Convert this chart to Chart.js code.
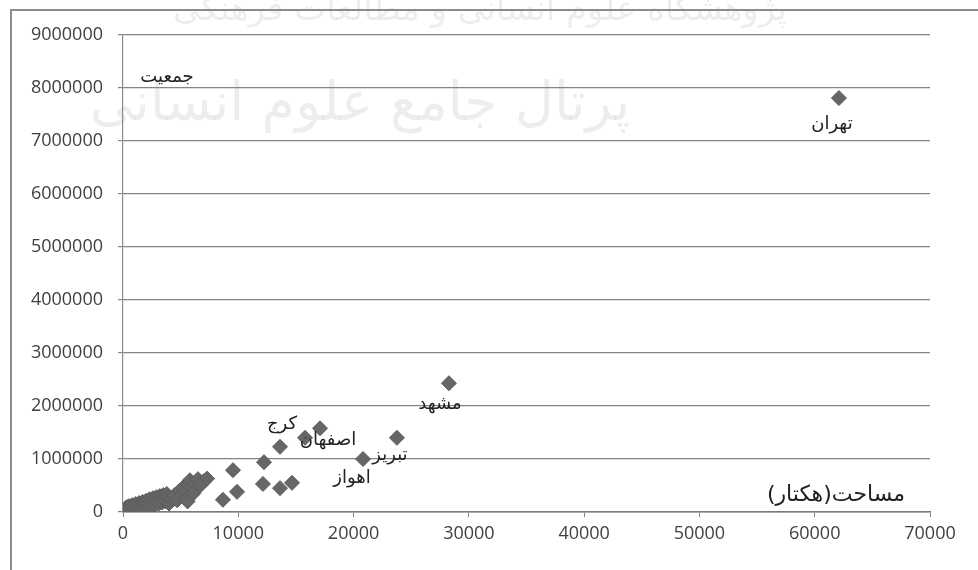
<!DOCTYPE html>
<html>
<head>
<meta charset="utf-8">
<script src="https://cdn.jsdelivr.net/npm/chart.js@4/dist/chart.umd.min.js"></script>
<style>
  html, body { margin: 0; padding: 0; background: #fff; }
  canvas { display: block; }
</style>
</head>
<body>
<canvas id="myChart" width="978" height="570"></canvas>
<script>
// مساحت (هکتار) و جمعیت شهرها
const areaHa = [62100, 28270, 23760, 20820, 17090, 15790, 13620, 12230, 9540, 12140, 13620, 14660, 9890, 8670,
  200, 300, 400, 500, 600, 700, 800, 900, 1000, 1100, 1200, 1300, 1400, 1500, 1600, 1700, 1800, 1900, 2000,
  2100, 2200, 2300, 2400, 2500, 2600, 2700, 2800, 2900, 3000, 3100, 3200, 3300, 3400, 3500, 3600, 3700, 3800, 3900, 4000,
  4300, 4500, 4700, 4900, 5000, 5200, 5400, 5500, 5700, 5800, 6000, 6200, 6500, 6700, 7000, 7300, 5600, 6100];
const population = [7810000, 2430000, 1400000, 1000000, 1580000, 1400000, 1230000, 940000, 790000, 530000, 450000, 550000, 380000, 230000,
  60000, 90000, 40000, 110000, 70000, 30000, 130000, 90000, 50000, 150000, 100000, 60000, 170000, 120000, 40000, 190000, 140000, 80000, 210000,
  160000, 100000, 240000, 180000, 120000, 260000, 200000, 140000, 280000, 220000, 160000, 300000, 240000, 180000, 320000, 260000, 200000, 340000, 280000, 160000,
  250000, 320000, 220000, 400000, 300000, 460000, 380000, 250000, 520000, 600000, 450000, 540000, 620000, 500000, 580000, 630000, 200000, 350000];

// نام شهرها برای نقاط برچسب‌دار (اندیس نقطه)
const cityNames = ['تهران', 'مشهد', 'تبریز', 'اهواز', 'اصفهان', 'کرج'];
const cityIndex = [0, 1, 2, 3, 4, 6];
const cityOffset = [[-7, 26], [-9, 21], [-7, 18], [-11, 19], [8, 12], [2, -22]];

const xTicks = [0, 10000, 20000, 30000, 40000, 50000, 60000, 70000];
const yTicks = [0, 1000000, 2000000, 3000000, 4000000, 5000000, 6000000, 7000000, 8000000, 9000000];

const points = areaHa.map(function (a, i) { return { x: a, y: population[i] }; });

const tickFont = { family: 'Open Sans', size: 18 };
const gridColor = '#858585';

// قاب، واترمارک و برچسب‌ها
const decor = {
  id: 'decor',
  beforeDraw(chart) {
    const c = chart.ctx;
    c.save();
    c.fillStyle = 'rgba(0,0,0,0.07)';
    c.textAlign = 'center';
    c.font = '34px "DejaVu Sans"';
    c.fillText('پژوهشگاه علوم انسانی و مطالعات فرهنگی', 480, 20);
    c.font = '54px "DejaVu Sans"';
    c.fillText('پرتال جامع علوم انسانی', 360, 120);
    c.restore();
  },
  afterDraw(chart) {
    const c = chart.ctx;
    const xs = chart.scales.x, ys = chart.scales.y;
    const area = chart.chartArea;
    c.save();
    c.strokeStyle = '#8c8c8c';
    c.lineWidth = 2;
    c.beginPath();
    c.moveTo(11, 570);
    c.lineTo(11, 10);
    c.lineTo(978, 10);
    c.stroke();

    c.fillStyle = '#222';
    c.textAlign = 'center';
    c.textBaseline = 'middle';
    c.font = '18px "DejaVu Sans"';
    cityNames.forEach(function (name, k) {
      const i = cityIndex[k];
      const px = xs.getPixelForValue(areaHa[i]) + cityOffset[k][0];
      const py = ys.getPixelForValue(population[i]) + cityOffset[k][1];
      c.fillText(name, px, py);
    });
    c.fillText('جمعیت', area.left + 44, area.top + 42);
    c.font = '22px "DejaVu Sans"';
    c.fillText('مساحت(هکتار)', area.right - 94, area.bottom - 17);
    c.restore();
  }
};

new Chart(document.getElementById('myChart').getContext('2d'), {
  type: 'scatter',
  data: {
    datasets: [{
      label: 'جمعیت',
      data: points,
      pointStyle: 'rectRot',
      pointRadius: 7.5,
      pointHoverRadius: 7.5,
      backgroundColor: '#666666',
      borderColor: '#5c5c5c',
      borderWidth: 1
    }]
  },
  options: {
    responsive: false,
    animation: false,
    devicePixelRatio: 1,
    layout: { padding: { top: 35, right: 48, bottom: 0, left: 0 } },
    plugins: { legend: { display: false }, tooltip: { enabled: false } },
    scales: {
      x: {
        type: 'linear',
        min: 0, max: 70000,
        afterBuildTicks: function (s) { s.ticks = xTicks.map(function (v) { return { value: v }; }); },
        afterFit: function (s) { s.height = 58; },
        ticks: { font: tickFont, color: '#404040', padding: 6, maxRotation: 0, autoSkip: false,
          callback: function (v) { return String(v); } },
        grid: { drawOnChartArea: false, drawTicks: true, tickLength: 5, color: gridColor },
        border: { display: true, color: '#7a7a7a', width: 1.5 }
      },
      y: {
        type: 'linear',
        min: 0, max: 9000000,
        afterBuildTicks: function (s) { s.ticks = yTicks.map(function (v) { return { value: v }; }); },
        afterFit: function (s) { s.width = 123; },
        ticks: { font: tickFont, color: '#404040', padding: 15, autoSkip: false,
          callback: function (v) { return String(v); } },
        grid: { color: gridColor, lineWidth: 1.2, tickLength: 5 },
        border: { display: true, color: '#8a8a8a', width: 1.2 }
      }
    }
  },
  plugins: [decor]
});
</script>
</body>
</html>
